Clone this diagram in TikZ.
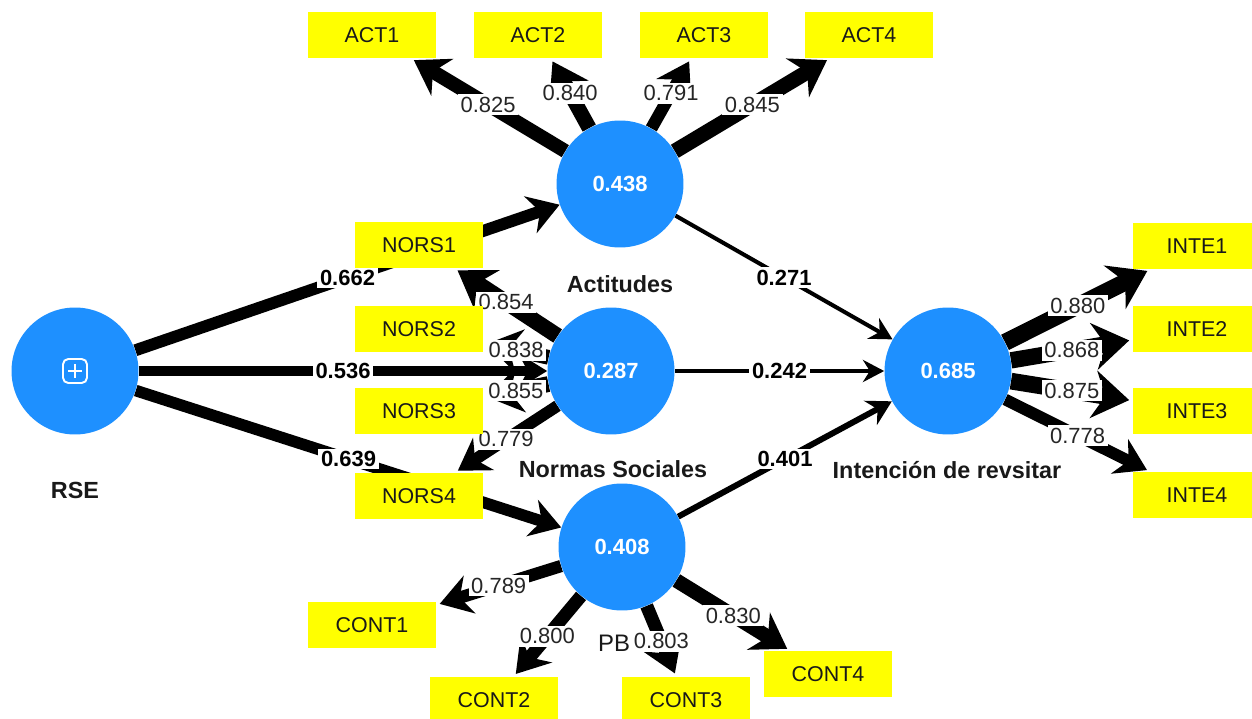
\documentclass[tikz,border=0pt]{standalone}
\usepackage{fontspec}
\setmainfont{Liberation Sans}
\usetikzlibrary{arrows.meta}
\definecolor{lvblue}{RGB}{30,144,255}
\definecolor{mvyellow}{RGB}{255,255,0}
\pgfdeclarelayer{edges}
\pgfsetlayers{edges,main}

\begin{document}
\begin{tikzpicture}[
    x=0.02cm, y=-0.02cm,
    >={Stealth[length=10pt 1.1, width=9pt 1.9]},
    lv/.style={circle, fill=lvblue, minimum size=2.54cm, inner sep=0pt,
      text=white, font=\fontsize{12.5}{14}\selectfont\bfseries},
    mv/.style={rectangle, fill=mvyellow, minimum width=2.56cm, minimum height=0.92cm,
      inner sep=0pt, text=black!90, font=\fontsize{12.2}{14}\selectfont},
    lvname/.style={inner sep=0pt, text=black!90, font=\fontsize{13.3}{15}\selectfont\bfseries},
    pathline/.style={->, line width=#1},
    loading/.style={->, line width=#1, shorten >=2pt},
    coef/.style={fill=white, inner sep=1.5pt, font=\fontsize{12.5}{14}\selectfont\bfseries},
    wt/.style={fill=white, inner sep=1.5pt, text=black!85, font=\fontsize{12.5}{14}\selectfont}
]
  \useasboundingbox (0,0) rectangle (1252,719);

  % latent variables
  \node[lv] (R) at (75,371)  {};
  \node[lv] (A) at (620,184) {0.438};
  \node[lv] (N) at (611,371) {0.287};
  \node[lv] (P) at (622,547) {0.408};
  \node[lv] (I) at (948,371) {0.685};

  % icon on RSE
  \node[draw=white, line width=1.1pt, rounded corners=3pt, minimum size=0.48cm, inner sep=0pt] (Ricon) at (R) {};
  \draw[white, line width=1.1pt] (68,371) -- (82,371) (75,364) -- (75,378);

  % names
  \node[lvname] (Rname) at (75,490)  {RSE};
  \node[lvname] (Aname) at (620,284) {Actitudes};
  \node[lvname] (Nname) at (613,469) {Normas Sociales};
  \node[lvname, font=\fontsize{13.6}{15}\selectfont] (Pname) at (614,643) {PB};
  \node[lvname] (Iname) at (947,470) {Intención de revsitar};

  % indicators
  \node[mv] (ACT1) at (372,35)  {ACT1};
  \node[mv] (ACT2) at (538,35)  {ACT2};
  \node[mv] (ACT3) at (704,35)  {ACT3};
  \node[mv] (ACT4) at (869,35)  {ACT4};

  \node[mv] (NORS1) at (419,245) {NORS1};
  \node[mv] (NORS2) at (419,329) {NORS2};
  \node[mv] (NORS3) at (419,411) {NORS3};
  \node[mv] (NORS4) at (419,496) {NORS4};

  \node[mv] (CONT1) at (372,625) {CONT1};
  \node[mv] (CONT2) at (494,700) {CONT2};
  \node[mv] (CONT3) at (686,700) {CONT3};
  \node[mv] (CONT4) at (828,674) {CONT4};

  \node[mv] (INTE1) at (1197,246) {INTE1};
  \node[mv] (INTE2) at (1197,329) {INTE2};
  \node[mv] (INTE3) at (1197,411) {INTE3};
  \node[mv] (INTE4) at (1197,495) {INTE4};

  % edges
  \begin{pgfonlayer}{edges}
  \draw[pathline=6.8pt] (R) -- node[coef] (c1) {0.662} (A);
  \draw[pathline=5.8pt] (R) -- node[coef] (c2) {0.536} (N);
  \draw[pathline=6.6pt] (R) -- node[coef] (c3) {0.639} (P);

  \draw[pathline=2.3pt] (A) -- node[coef] (c4) {0.271} (I);
  \draw[pathline=1.9pt] (N) -- node[coef] (c5) {0.242} (I);
  \draw[pathline=3.4pt] (P) -- node[coef] (c6) {0.401} (I);

  \draw[loading=8.0pt] (A) -- node[wt] (w1) {0.825} (ACT1);
  \draw[loading=8.5pt] (A) -- node[wt] (w2) {0.840} (ACT2);
  \draw[loading=7.0pt] (A) -- node[wt] (w3) {0.791} (ACT3);
  \draw[loading=8.6pt] (A) -- node[wt] (w4) {0.845} (ACT4);

  \draw[loading=9.0pt] (N) -- node[wt] (w5) {0.854} (NORS1);
  \draw[loading=8.4pt] (N) -- node[wt] (w6) {0.838} (NORS2);
  \draw[loading=9.0pt] (N) -- node[wt] (w7) {0.855} (NORS3);
  \draw[loading=6.7pt] (N) -- node[wt] (w8) {0.779} (NORS4);

  \draw[loading=7.0pt] (P) -- node[wt] (w9)  {0.789} (CONT1);
  \draw[loading=7.4pt] (P) -- node[wt] (w10) {0.800} (CONT2);
  \draw[loading=7.5pt] (P) -- node[wt] (w11) {0.803} (CONT3);
  \draw[loading=8.2pt] (P) -- node[wt] (w12) {0.830} (CONT4);

  \draw[loading=9.7pt] (I) -- node[wt] (w13) {0.880} (INTE1);
  \draw[loading=9.3pt] (I) -- node[wt] (w14) {0.868} (INTE2);
  \draw[loading=9.5pt] (I) -- node[wt] (w15) {0.875} (INTE3);
  \draw[loading=6.7pt] (I) -- node[wt] (w16) {0.778} (INTE4);
  \end{pgfonlayer}
\end{tikzpicture}
\end{document}
